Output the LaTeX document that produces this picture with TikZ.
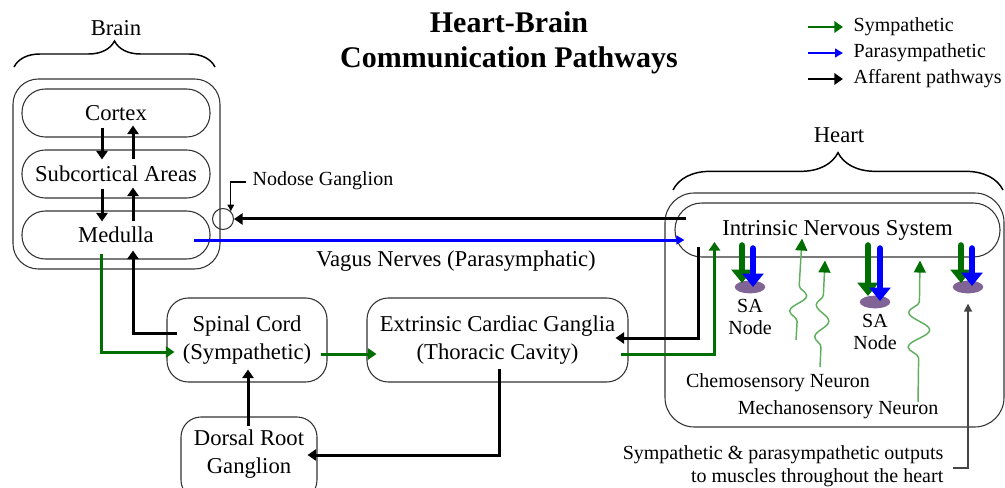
\documentclass[tikz,border=0pt]{standalone}
\usepackage{fontspec}
\setmainfont{Liberation Serif}
\usetikzlibrary{arrows.meta,calc,shapes.geometric,decorations.pathreplacing,decorations.pathmorphing}

\definecolor{symgreen}{RGB}{0,110,0}
\definecolor{parablue}{RGB}{0,0,255}
\definecolor{sensgreen}{RGB}{95,175,95}
\definecolor{sapurple}{RGB}{128,100,150}
\definecolor{leadgray}{RGB}{70,70,70}

\tikzset{
	region/.style={draw=black!80, line width=0.8pt, inner sep=0pt, font=\fontsize{17}{21}\selectfont, align=center},
	lobe/.style={region, minimum width=141pt, minimum height=36pt, rounded corners=17.5pt},
	smalltext/.style={font=\fontsize{15}{17}\selectfont, align=center},
	bigtext/.style={font=\fontsize{17}{21}\selectfont, align=center},
	aff/.style={draw=black, line width=2.25pt, -{Triangle[width=8.5pt,length=6.5pt]}},
	symp/.style={draw=symgreen, line width=2.25pt, -{Triangle[width=8.5pt,length=6.5pt]}},
	para/.style={draw=parablue, line width=2.25pt, -{Triangle[width=6.5pt,length=6pt]}},
	symthick/.style={draw=symgreen, line width=5pt, line cap=round, -{Triangle[width=15.5pt,length=10pt]}},
	parathick/.style={draw=parablue, line width=5pt, line cap=round, -{Triangle[width=15.5pt,length=10pt]}},
	sensory/.style={draw=sensgreen, line width=1.1pt, decorate, -{Triangle[width=9pt,length=9pt,color=symgreen]}},
	sanode/.style={ellipse, fill=sapurple, minimum width=23pt, minimum height=9.5pt, inner sep=0pt},
	leader/.style={draw=black, line width=0.8pt, -{Triangle[width=5pt,length=5pt]}},
	grayleader/.style={draw=leadgray, line width=1pt, -{Triangle[width=6pt,length=6pt]}},
	bracedeco/.style={draw=black, line width=1.1pt, decorate, decoration={brace}}
}

\begin{document}
\begin{tikzpicture}[x=0.75pt,y=0.75pt,yscale=-1,xscale=1]
\useasboundingbox (0,0) rectangle (1005,488);

% title and legend
\node[font=\fontsize{22.5}{26}\selectfont\bfseries, align=center] (title) at (509,43) {Heart-Brain\\Communication Pathways};
\node[smalltext, anchor=west] (legsym) at (849,27) {Sympathetic};
\node[smalltext, anchor=west] (legpara) at (849,53) {Parasympathetic};
\node[smalltext, anchor=west] (legaff) at (849,79) {Affarent pathways};
\draw[symp, line width=1.8pt] ($(legsym.west)+(-41,0)$) -- ($(legsym.west)+(-6,0)$);
\draw[para, line width=1.8pt] ($(legpara.west)+(-41,0)$) -- ($(legpara.west)+(-6,0)$);
\draw[aff, line width=1.8pt] ($(legaff.west)+(-41,0)$) -- ($(legaff.west)+(-6,0)$);

% brain
\node[bigtext] (brainlab) at (116,28) {Brain};
\draw[bracedeco, decoration={amplitude=19.5pt}] (14,67) -- (215,67);
\node[region, minimum width=155.25pt, minimum height=142.5pt, rounded corners=19pt] (brain) at (116.5,174) {};
\node[lobe] (cortex) at (116,113) {Cortex};
\node[lobe] (subcort) at (116,174) {Subcortical Areas};
\node[lobe] (medulla) at (116,235) {Medulla};

\draw[aff] ($(cortex.south)+(-14,-10)$) -- ($(subcort.north)+(-14,10)$);
\draw[aff] ($(subcort.north)+(17,10)$) -- ($(cortex.south)+(17,-12)$);
\draw[aff] ($(subcort.south)+(-14,-10)$) -- ($(medulla.north)+(-14,11)$);
\draw[aff] ($(medulla.north)+(17,11)$) -- ($(subcort.south)+(17,-11)$);

% nodose ganglion
\node[circle, draw=black!80, line width=0.8pt, minimum size=15.75pt, inner sep=0pt] (nodose) at (223,219) {};
\node[smalltext, anchor=west] (nodoselab) at (248,181) {Nodose Ganglion};
\draw[leader] ($(nodoselab.west)+(-2,1)$) -| (nodose.north east);

% spinal cord and ganglia
\node[region, minimum width=120pt, minimum height=63pt, rounded corners=16pt] (spinal) at (247,340) {Spinal Cord\\(Sympathetic)};
\node[region, minimum width=195.75pt, minimum height=63pt, rounded corners=16pt] (extr) at (497.5,340) {Extrinsic Cardiac Ganglia\\(Thoracic Cavity)};
\node[region, minimum width=102pt, minimum height=62.25pt, rounded corners=15pt] (dorsal) at (249,458.5) {};
\node[bigtext] (dorsallab) at (249,454) {Dorsal Root\\Ganglion};

% heart
\node[bigtext] (heartlab) at (839,135) {Heart};
\draw[bracedeco, decoration={amplitude=28pt}] (673,190) -- (1003,190);
\node[region, minimum width=254.25pt, minimum height=175.5pt, rounded corners=22pt] (heart) at (834.5,310) {};
\node[region, minimum width=243.75pt, minimum height=40.5pt, rounded corners=20pt] (intrinsic) at (837.5,230) {Intrinsic Nervous System};

% vagus
\draw[aff] ($(intrinsic.west)+(12,-11)$) -- (nodose.east);
\draw[para] ($(medulla.east)+(-17,5)$) -- ($(intrinsic.west)+(10,10)$);
\node[bigtext] (vagus) at (456,261) {Vagus Nerves (Parasymphatic)};

% spinal pathways
\draw[symp] ($(medulla.south)+(-15,-6)$) |- ($(spinal.west)+(8,12)$);
\draw[aff] ($(spinal.west)+(11,-7)$) -| ($(medulla.south)+(17,-9)$);
\draw[symp] ($(spinal.east)+(-7,14)$) -- ($(extr.west)+(10,14)$);
\draw[aff] ($(dorsal.north)+(-1,10)$) -- ($(spinal.south)+(1,-13)$);
\draw[aff] ($(extr.south)+(1.5,-14)$) |- ($(dorsal.east)+(-10,-3.5)$);
\draw[aff] ($(intrinsic.west)+(24,17)$) |- ($(extr.east)+(-13,-2)$);
\draw[symp] ($(extr.east)+(-8,14)$) -| ($(intrinsic.west)+(40,12)$);

% outputs to SA nodes
\node[sanode] (sa1) at (750,287) {};
\node[sanode] (sa2) at (875,302) {};
\node[sanode] (sa3) at (968,287) {};
\draw[symthick] ($(sa1 |- intrinsic.south)+(-8,-12)$) -- ($(sa1)+(-8,-4)$);
\draw[parathick] ($(sa1 |- intrinsic.south)+(3,-9)$) -- ($(sa1)+(3,0)$);
\draw[symthick] ($(sa2 |- intrinsic.south)+(-7,-12)$) -- ($(sa2)+(-7,-6)$);
\draw[parathick] ($(sa2 |- intrinsic.south)+(5,-9)$) -- ($(sa2)+(5,-1)$);
\draw[symthick] ($(sa3 |- intrinsic.south)+(-7,-12)$) -- ($(sa3)+(-7,-4)$);
\draw[parathick] ($(sa3 |- intrinsic.south)+(4,-9)$) -- ($(sa3)+(4,-1)$);
\node[smalltext, font=\fontsize{15}{16.5}\selectfont] (sa1lab) at (750,317) {SA\\Node};
\node[smalltext, font=\fontsize{15}{16.5}\selectfont] (sa2lab) at (875,332) {SA\\Node};

% sensory neurons
\coordinate (chemo1) at (796,340);
\coordinate (chemo2) at (820,367);
\coordinate (mechano) at (918,402);
\draw[sensory, decoration={snake, amplitude=6pt, segment length=24pt, pre length=14pt, post length=28pt}] (chemo1) -- ($(intrinsic.south)+(-35.5,-19)$);
\draw[sensory, decoration={snake, amplitude=5pt, segment length=24pt, pre length=15pt, post length=22pt}] (chemo2) -- ($(intrinsic.south)+(-12.5,3)$);
\draw[sensory, decoration={snake, amplitude=8pt, segment length=26pt, pre length=33pt, post length=22pt}] (mechano) -- ($(intrinsic.south)+(82.5,3)$);
\node[smalltext] (chemolab) at (778,383) {Chemosensory Neuron};
\node[smalltext] (mechlab) at (838,410) {Mechanosensory Neuron};

% outputs label
\node[smalltext, align=right, anchor=east, font=\fontsize{15}{17}\selectfont] (outputs) at (948,466) {Sympathetic \& parasympathetic outputs\\to muscles throughout the heart};
\draw[grayleader] ($(outputs.east)+(5,2)$) -| ($(sa3.south)+(0,10)$);

\end{tikzpicture}
\end{document}
